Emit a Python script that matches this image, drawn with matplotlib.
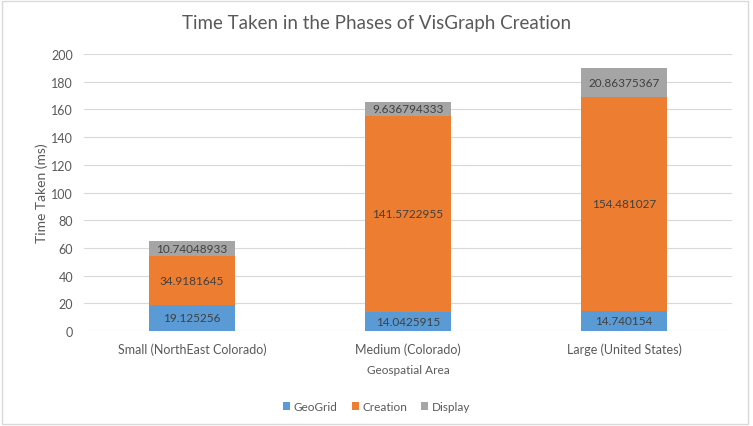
import numpy as np
import matplotlib.pyplot as plt
from matplotlib.patches import Rectangle

# Dados
categories = ['Small (NorthEast Colorado)', 'Medium (Colorado)', 'Large (United States)']
geogrid = [19.125256, 14.0425915, 14.740154]
creation = [34.9181645, 141.5722955, 154.481027]
display = [10.74048933, 9.636794333, 20.86375367]
geogrid_labels = ['19.125256', '14.0425915', '14.740154']
creation_labels = ['34.9181645', '141.5722955', '154.481027']
display_labels = ['10.74048933', '9.636794333', '20.86375367']

plt.rcParams['font.family'] = ['Lato', 'DejaVu Sans']
txt = '#595959'

fig = plt.figure(figsize=(7.53, 4.27), dpi=100)
ax = fig.add_axes([0.1116, 0.2225, 0.8606, 0.6485])

x = np.arange(len(categories))
w = 0.395
b1 = ax.bar(x, geogrid, w, color='#5B9BD5', label='GeoGrid', zorder=3)
b2 = ax.bar(x, creation, w, bottom=geogrid, color='#ED7D31', label='Creation', zorder=3)
bottom3 = np.array(geogrid) + np.array(creation)
b3 = ax.bar(x, display, w, bottom=bottom3, color='#A5A5A5', label='Display', zorder=3)

# Rótulos no centro de cada segmento
for bars, labels in [(b1, geogrid_labels), (b2, creation_labels), (b3, display_labels)]:
    ax.bar_label(bars, labels=labels, label_type='center', fontsize=8.5, color='#404040', zorder=4)

ax.set_xlim(-0.5, 2.5)
ax.set_ylim(0, 200)
ax.set_yticks(np.arange(0, 201, 20))
ax.set_xticks(x)
ax.set_xticklabels(categories)
ax.grid(axis='y', color='#D9D9D9', linewidth=0.8, zorder=0)
for s in ax.spines.values():
    s.set_visible(False)
ax.tick_params(length=0, labelsize=9, labelcolor=txt, pad=8)

ax.set_xlabel('Geospatial Area', fontsize=8.5, color=txt, labelpad=7)
ax.set_ylabel('Time Taken (ms)', fontsize=10, color=txt, labelpad=2)
fig.suptitle('Time Taken in the Phases of VisGraph Creation', fontsize=13.5, color=txt, y=0.965)

fig.legend(handles=[b1, b2, b3], loc='center', bbox_to_anchor=(0.5, 0.045), ncol=3, frameon=False,
           fontsize=8.5, labelcolor=txt, handlelength=0.6, handleheight=0.6, handletextpad=0.3, columnspacing=1.2)

# Moldura da figura
fig.patches.append(Rectangle((0.003, 0.005), 0.99, 0.99, transform=fig.transFigure,
                             fill=False, edgecolor='#D9D9D9', linewidth=1))

fig.savefig('out.png', dpi=100)
